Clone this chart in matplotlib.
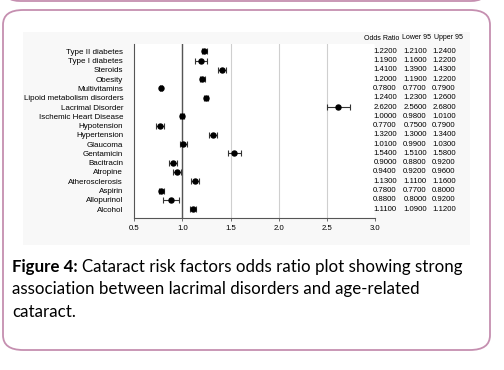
import matplotlib
matplotlib.use("Agg")
import matplotlib.pyplot as plt
from matplotlib.patches import FancyBboxPatch
from matplotlib.transforms import blended_transform_factory

factors = ["Type II diabetes", "Type I diabetes", "Steroids", "Obesity", "Multivitamins",
           "Lipoid metabolism disorders", "Lacrimal Disorder", "Ischemic Heart Disease",
           "Hypotension", "Hypertension", "Glaucoma", "Gentamicin", "Bacitracin", "Atropine",
           "Atherosclerosis", "Aspirin", "Allopurinol", "Alcohol"]
odds = [1.22, 1.19, 1.41, 1.20, 0.78, 1.24, 2.62, 1.00, 0.77, 1.32, 1.01, 1.54, 0.90, 0.94,
        1.13, 0.78, 0.88, 1.11]
lower95 = [1.21, 1.16, 1.39, 1.19, 0.77, 1.23, 2.56, 0.98, 0.75, 1.30, 0.99, 1.51, 0.88, 0.92,
           1.11, 0.77, 0.80, 1.09]
upper95 = [1.24, 1.22, 1.43, 1.22, 0.79, 1.26, 2.68, 1.01, 0.79, 1.34, 1.03, 1.58, 0.92, 0.96,
           1.16, 0.80, 0.92, 1.12]
# whisker ends as drawn in the picture (wider than the printed table)
bar_lo = [1.20, 1.13, 1.37, 1.18, 0.77, 1.22, 2.50, 0.97, 0.73, 1.28, 0.97, 1.47, 0.86, 0.90,
          1.09, 0.76, 0.80, 1.08]
bar_hi = [1.25, 1.25, 1.45, 1.23, 0.79, 1.27, 2.74, 1.02, 0.81, 1.36, 1.05, 1.61, 0.94, 0.98,
          1.17, 0.81, 0.96, 1.14]
xticks = [0.5, 1.0, 1.5, 2.0, 2.5, 3.0]

W, H = 504, 370
fig = plt.figure(figsize=(W / 100, H / 100), dpi=100)
fig.patch.set_facecolor("white")

def fx(px):
    return px / W

def fy(py):
    return 1 - py / H

border = "#c58fb0"
# bottom of the box above
fig.patches.append(FancyBboxPatch((fx(5), fy(1)), fx(481), 0.2, boxstyle="round,pad=0,rounding_size=0.03",
                                  transform=fig.transFigure, fc="white", ec=border, lw=1.3,
                                  zorder=-3))
fig.patches.append(FancyBboxPatch((fx(3), fy(350)), fx(487), fy(10) - fy(350),
                                  boxstyle="round,pad=0,rounding_size=0.04",
                                  transform=fig.transFigure, fc="white", ec=border, lw=1.3,
                                  zorder=-3))
fig.patches.append(plt.Rectangle((fx(23), fy(245)), fx(447), fy(32) - fy(245),
                                 transform=fig.transFigure, fc="#f8f8f8", ec="none", zorder=-2))

ax = fig.add_axes([fx(134.3), fy(218), fx(375) - fx(134.3), fy(44) - fy(218)])
ax.set_facecolor("white")
y = list(range(len(factors)))
xerr = [[o - l for o, l in zip(odds, bar_lo)], [h - o for o, h in zip(odds, bar_hi)]]
ax.errorbar(odds, y, xerr=xerr, fmt="o", color="black", ecolor="#333333", ms=3.6,
            elinewidth=0.8, capsize=2, capthick=0.8, zorder=3)
for t in xticks[1:]:
    ax.axvline(t, color="#cfcfcf", lw=0.8, zorder=0)
ax.axvline(1.0, color="#555555", lw=1.0, zorder=1)
ax.set_xlim(0.5, 3.0)
ax.set_ylim(17.96, -0.79)
ax.set_xticks(xticks)
ax.set_xticklabels(["%.1f" % t for t in xticks])
ax.set_yticks(y)
ax.set_yticklabels(factors)
ax.tick_params(axis="y", length=0, pad=8, labelsize=5.8)
ax.tick_params(axis="x", length=2, width=0.6, color="#555555", pad=3, labelsize=5.6)
for lab in ax.get_xticklabels() + ax.get_yticklabels():
    lab.set_fontfamily("Liberation Sans")
for s in ["top", "right"]:
    ax.spines[s].set_visible(False)
for s in ["left", "bottom"]:
    ax.spines[s].set_color("#555555")
    ax.spines[s].set_linewidth(0.8)

tr = blended_transform_factory(fig.transFigure, ax.transData)
cols = [fx(385), fx(415), fx(444)]
ax.text(fx(382), -1.35, "Odds Ratio", transform=tr, ha="center", va="center", fontsize=5.0,
        fontfamily="Liberation Sans", clip_on=False)
ax.text(fx(416.5), -1.45, "Lower 95", transform=tr, ha="center", va="center", fontsize=5.0,
        fontfamily="Liberation Sans", clip_on=False)
ax.text(fx(448), -1.45, "Upper 95", transform=tr, ha="center", va="center", fontsize=5.0,
        fontfamily="Liberation Sans", clip_on=False)
for i in y:
    for c, v in zip(cols, [odds[i], lower95[i], upper95[i]]):
        ax.text(c, i, "%.4f" % v, transform=tr, ha="center", va="center", fontsize=5.6,
                fontfamily="Liberation Sans", clip_on=False)

cap_font = "Lato"
cap_size = 12.2
t1 = fig.text(fx(12), fy(271.7), "Figure 4:", fontsize=cap_size, fontweight="bold",
              fontfamily=cap_font, va="baseline", ha="left")
fig.canvas.draw()
bb = t1.get_window_extent()
fig.text(fx(bb.x1 + 4), fy(271.7), "Cataract risk factors odds ratio plot showing strong",
         fontsize=cap_size, fontfamily=cap_font, va="baseline", ha="left")
fig.text(fx(12), fy(294.2), "association between lacrimal disorders and age-related",
         fontsize=cap_size, fontfamily=cap_font, va="baseline", ha="left")
fig.text(fx(12), fy(316.7), "cataract.", fontsize=cap_size, fontfamily=cap_font,
         va="baseline", ha="left")

fig.savefig("out.png", dpi=100)
